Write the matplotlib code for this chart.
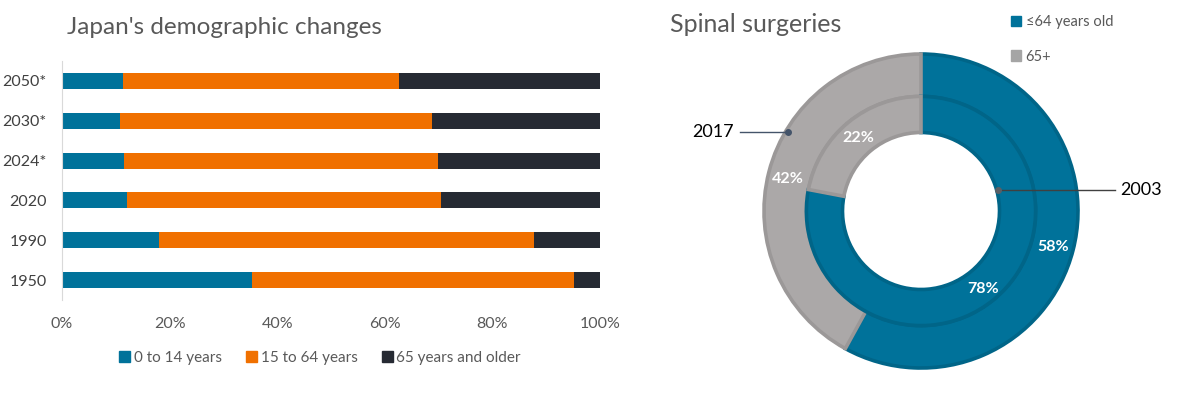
import numpy as np
import matplotlib.pyplot as plt
from matplotlib.patches import Patch

plt.rcParams['font.family'] = ['Lato', 'DejaVu Sans']

# Japan population shares (%)
years = ['1950', '1990', '2020', '2024*', '2030*', '2050*']
age_0_14 = [35.4, 18.0, 12.0, 11.5, 10.7, 11.3]
age_15_64 = [59.7, 69.8, 58.4, 58.4, 58.1, 51.3]
age_65_up = [4.9, 12.2, 29.6, 30.1, 31.2, 37.4]
bar_series = ['0 to 14 years', '15 to 64 years', '65 years and older']

# Spinal surgeries shares (%)
ring_years = ['2017', '2003']
under_65 = [58, 78]
over_65 = [42, 22]
ring_series = ['\u226464 years old', '65+']

teal = '#00729a'
orange = '#f07000'
dark = '#262a33'
grey_face = '#aba8a8'
grey_edge = '#9b9898'
blue_edge = '#006588'
txt = '#595959'

fig = plt.figure(figsize=(11.9, 3.94), dpi=100)

# ---- stacked bar chart ----
ax = fig.add_axes([62 / 1190, 1 - 300 / 394, 538 / 1190, 239 / 394])
y = np.arange(len(years))
s1 = np.array(age_0_14) / 100
s2 = np.array(age_15_64) / 100
s3 = np.array(age_65_up) / 100
tot = s1 + s2 + s3
s1, s2, s3 = s1 / tot, s2 / tot, s3 / tot
ax.barh(y, s1, height=0.4, color=teal)
ax.barh(y, s2, left=s1, height=0.4, color=orange)
ax.barh(y, s3, left=s1 + s2, height=0.4, color=dark)
ax.set_xlim(0, 1)
ax.set_ylim(-0.5, len(years) - 0.5)
ax.set_yticks(y)
ax.set_yticklabels(years)
ax.set_xticks(np.linspace(0, 1, 6))
ax.set_xticklabels(['0%', '20%', '40%', '60%', '80%', '100%'])
ax.tick_params(axis='both', length=0, labelsize=11.5, colors=txt)
ax.tick_params(axis='y', pad=11, labelcolor='#404040')
ax.tick_params(axis='x', pad=12)
for side in ['top', 'right', 'bottom']:
    ax.spines[side].set_visible(False)
ax.spines['left'].set_color('#d9d9d9')

handles = [Patch(color=c) for c in [teal, orange, dark]]
fig.legend(handles, bar_series, loc='center', bbox_to_anchor=(320 / 1190, 1 - 358 / 394),
           ncol=3, frameon=False, fontsize=11, labelcolor=txt,
           handlelength=0.7, handleheight=0.7, handletextpad=0.25, columnspacing=1.6)

fig.text(67 / 1190, 1 - 27 / 394, "Japan's demographic changes", fontsize=17.5,
         color=txt, va='center', ha='left')

# ---- donut chart ----
pa = fig.add_axes([751 / 1190, 1 - 381 / 394, 340 / 1190, 340 / 394])
wp = dict(linewidth=2.6)
outer = pa.pie([under_65[0], over_65[0]], radius=1.0, startangle=90, counterclock=False,
               colors=[teal, grey_face], wedgeprops=dict(width=0.27, **wp))[0]
inner = pa.pie([under_65[1], over_65[1]], radius=0.73, startangle=90, counterclock=False,
               colors=[teal, grey_face], wedgeprops=dict(width=0.23, **wp))[0]
for w in (outer[0], inner[0]):
    w.set_edgecolor(blue_edge)
for w in (outer[1], inner[1]):
    w.set_edgecolor(grey_edge)
lim = 170 / 157
pa.set_xlim(-lim, lim)
pa.set_ylim(-lim, lim)
pa.set_aspect('equal')
pa.axis('off')

lab = dict(color='white', fontsize=11.5, fontweight='bold', ha='center', va='center')
pa.text(0.841, -0.229, f'{under_65[0]}%', **lab)
pa.text(-0.847, 0.204, f'{over_65[0]}%', **lab)
pa.text(0.395, -0.497, f'{under_65[1]}%', **lab)
pa.text(-0.40, 0.465, f'{over_65[1]}%', **lab)

pa.plot([-1.153, -0.847], [0.503, 0.503], color='#44546a', lw=1, clip_on=False)
pa.plot([-0.847], [0.503], 'o', color='#44546a', ms=4, clip_on=False)
pa.text(-1.195, 0.503, ring_years[0], ha='right', va='center', fontsize=13, color='black')
pa.plot([0.49, 1.236], [0.134, 0.134], color='#404040', lw=1, clip_on=False)
pa.plot([0.49], [0.134], 'o', color='#5a5f66', ms=4, clip_on=False)
pa.text(1.27, 0.134, ring_years[1], ha='left', va='center', fontsize=13, color='black')

fig.text(670 / 1190, 1 - 24 / 394, 'Spinal surgeries', fontsize=18, color=txt,
         va='center', ha='left')

rh = [Patch(color=teal), Patch(color='#a5a5a5')]
fig.legend(rh, ring_series, loc='upper left', bbox_to_anchor=(998 / 1190, 1 - 2 / 394),
           frameon=False, fontsize=10.5, labelcolor=txt, labelspacing=1.4,
           handlelength=0.7, handleheight=0.7, handletextpad=0.3)

fig.savefig('out.png', dpi=100)
